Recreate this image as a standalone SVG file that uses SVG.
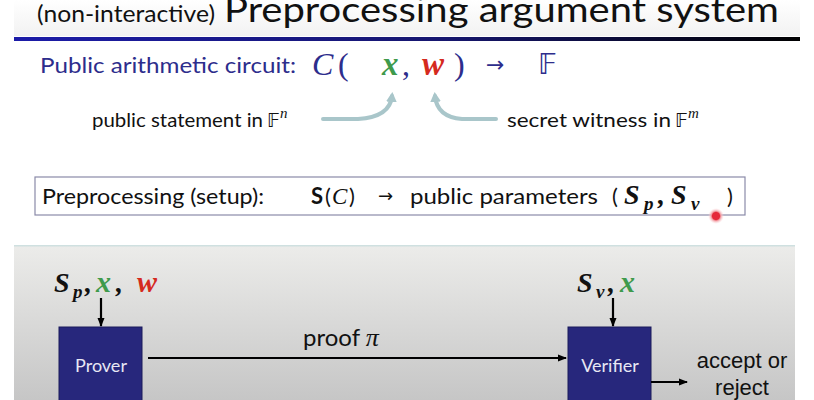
<svg xmlns="http://www.w3.org/2000/svg" width="814" height="400" viewBox="0 0 814 400">
<style>
.cal{font-family:Lato,"Open Sans","Liberation Sans",sans-serif}
.ari{font-family:"Liberation Sans",Arial,sans-serif}
.mi{font-family:"Liberation Serif","DejaVu Serif",serif;font-style:italic;font-weight:bold}
.rm{font-family:"Liberation Serif","DejaVu Serif",serif}
.ds{font-family:"DejaVu Sans","DejaVu Serif",sans-serif}
.navy{fill:#2d2d8c}
.grn{fill:#3f9a4c}
.red{fill:#d52a1e}
.blk{fill:#111}
.box{fill:#27277c;stroke:#1a1a5a;stroke-width:1}
.conn{stroke:#000;stroke-width:2.2;fill:none}
.curve{stroke:#a9c6ca;stroke-width:4;fill:none;stroke-linecap:round}
</style>
<defs>
<linearGradient id="bar" x1="0" y1="0" x2="1" y2="0">
<stop offset="0" stop-color="#1c1ca8"/>
<stop offset="0.55" stop-color="#16166e"/>
<stop offset="1" stop-color="#000"/>
</linearGradient>
<linearGradient id="panel" x1="0" y1="0" x2="0" y2="1">
<stop offset="0" stop-color="#ececea"/>
<stop offset="1" stop-color="#c6c6c6"/>
</linearGradient>
<linearGradient id="titlebg" x1="0" y1="0" x2="0" y2="1">
<stop offset="0" stop-color="#ffffff"/>
<stop offset="1" stop-color="#f2f2f2"/>
</linearGradient>
<marker id="ah" markerWidth="10" markerHeight="10" refX="8" refY="5" orient="auto" markerUnits="userSpaceOnUse">
<path d="M0,1.5 L9,5 L0,8.5 Z" fill="#000"/>
</marker>
<marker id="ahc" markerWidth="14" markerHeight="14" refX="6" refY="6" orient="auto" markerUnits="userSpaceOnUse">
<path d="M0,0.5 L10,6 L0,11.5 Z" fill="#a9c6ca"/>
</marker>
<radialGradient id="dot">
<stop offset="0" stop-color="#e5283a"/>
<stop offset="0.45" stop-color="#e5283a"/>
<stop offset="0.6" stop-color="#f3a0a6"/>
<stop offset="1" stop-color="#fbe0e2" stop-opacity="0"/>
</radialGradient>
</defs>
<rect x="0" y="0" width="814" height="400" fill="#fff"/>
<rect x="14" y="0" width="786" height="36" fill="url(#titlebg)"/>
<g id="title">
<text x="37" y="22" class="cal" font-size="24" fill="#111" textLength="178" lengthAdjust="spacingAndGlyphs">(non-interactive)</text>
<text x="224" y="22" class="cal" font-size="35" fill="#111" textLength="555" lengthAdjust="spacingAndGlyphs">Preprocessing argument system</text>
</g>
<rect x="14" y="37" width="786" height="4" fill="url(#bar)"/>
<g id="circuit">
<text x="40" y="73" class="cal navy" font-size="22" textLength="256" lengthAdjust="spacingAndGlyphs">Public arithmetic circuit:</text>
<text x="312" y="75" font-size="32" class="navy rm" font-style="italic">C</text>
<text x="338" y="75" font-size="32" class="navy rm">(</text>
<text x="382" y="75" font-size="33" class="mi grn">x</text>
<text x="402" y="75" font-size="32" class="navy rm">,</text>
<text x="422" y="75" font-size="33" class="mi red">w</text>
<text x="454" y="75" font-size="32" class="navy rm">)</text>
<text x="486" y="72" font-size="22" class="navy" font-family="DejaVu Sans,sans-serif">→</text>
<text x="538" y="74" font-size="28" class="navy ds">𝔽</text>
</g>
<g id="statement">
<text x="92" y="127" class="cal blk" font-size="19" textLength="171" lengthAdjust="spacingAndGlyphs">public statement in</text>
<text x="267" y="127" class="ds blk" font-size="19">𝔽</text>
<text x="280" y="118" font-size="15" class="blk rm" font-style="italic">n</text>
</g>
<g id="witness">
<text x="507" y="127" class="cal blk" font-size="19" textLength="164" lengthAdjust="spacingAndGlyphs">secret witness in</text>
<text x="675" y="127" class="ds blk" font-size="19">𝔽</text>
<text x="688" y="118" font-size="15" class="blk rm" font-style="italic">m</text>
</g>
<g id="setup">
<rect x="35" y="177" width="710" height="38" fill="#fff" stroke="#8a8aa8" stroke-width="1.2"/>
<text x="42" y="204" class="cal blk" font-size="22" textLength="222" lengthAdjust="spacingAndGlyphs">Preprocessing (setup):</text>
<text x="311" y="204" class="cal blk" font-size="22" font-weight="bold">S</text>
<text x="325" y="204" class="cal blk" font-size="22">(</text>
<text x="332" y="204" class="blk rm" font-size="23" font-style="italic">C</text>
<text x="349" y="204" class="cal blk" font-size="22">)</text>
<text x="378" y="202" font-size="18" class="blk" font-family="DejaVu Sans,sans-serif">→</text>
<text x="410" y="204" class="cal blk" font-size="22" textLength="188" lengthAdjust="spacingAndGlyphs">public parameters</text>
<text x="612" y="204" class="cal blk" font-size="22">(</text>
<text x="624" y="204" class="mi blk" font-size="28">S</text>
<text x="644" y="210" class="mi blk" font-size="19">p</text>
<text x="658" y="204" class="mi blk" font-size="28" font-style="normal">,</text>
<text x="671" y="204" class="mi blk" font-size="28">S</text>
<text x="691" y="210" class="mi blk" font-size="19">v</text>
<text x="727" y="204" class="cal blk" font-size="22">)</text>
</g>
<circle cx="716" cy="216" r="8" fill="url(#dot)"/>
<rect x="14" y="245" width="781" height="155" fill="url(#panel)"/>
<rect x="14" y="245" width="781" height="1.5" fill="#cfe0e0"/>
<g id="prover-in">
<text x="54" y="292" class="mi blk" font-size="28">S</text>
<text x="73" y="298" class="mi blk" font-size="19">p</text>
<text x="85" y="292" class="mi blk" font-size="28" font-style="normal">,</text>
<text x="96" y="292" class="mi grn" font-size="30">x</text>
<text x="116" y="292" class="mi blk" font-size="28" font-style="normal">,</text>
<text x="137" y="292" class="mi red" font-size="30">w</text>
</g>
<g id="prover">
<rect x="59" y="327" width="83" height="80" class="box"/>
<text x="101" y="372" text-anchor="middle" class="cal" font-size="18" fill="#e8e8f4">Prover</text>
</g>
<g id="verifier-in">
<text x="577" y="292" class="mi blk" font-size="28">S</text>
<text x="596" y="298" class="mi blk" font-size="19">v</text>
<text x="608" y="292" class="mi blk" font-size="28" font-style="normal">,</text>
<text x="620" y="292" class="mi grn" font-size="30">x</text>
</g>
<g id="verifier">
<rect x="568" y="327" width="83" height="80" class="box"/>
<text x="610" y="372" text-anchor="middle" class="cal" font-size="18" fill="#e8e8f4">Verifier</text>
</g>
<g id="result">
<text x="742" y="368" text-anchor="middle" class="ari blk" font-size="22">accept or</text>
<text x="742" y="395" text-anchor="middle" class="ari blk" font-size="22">reject</text>
</g>
<text x="303" y="346" class="cal blk" font-size="24">proof <tspan class="rm" font-style="italic" font-size="26">π</tspan></text>
<g id="connectors">
<path class="curve" d="M323,119 L358,119 Q390,117 392,96" marker-end="url(#ahc)"/>
<path class="curve" d="M496,119 L462,119 Q437,117 435,96" marker-end="url(#ahc)"/>
<line class="conn" x1="101" y1="298" x2="101" y2="326" marker-end="url(#ah)"/>
<line class="conn" x1="613" y1="298" x2="613" y2="326" marker-end="url(#ah)"/>
<line class="conn" x1="148" y1="358" x2="566" y2="358" marker-end="url(#ah)"/>
<line class="conn" x1="651" y1="382" x2="687" y2="382" marker-end="url(#ah)"/>
</g>
</svg>
